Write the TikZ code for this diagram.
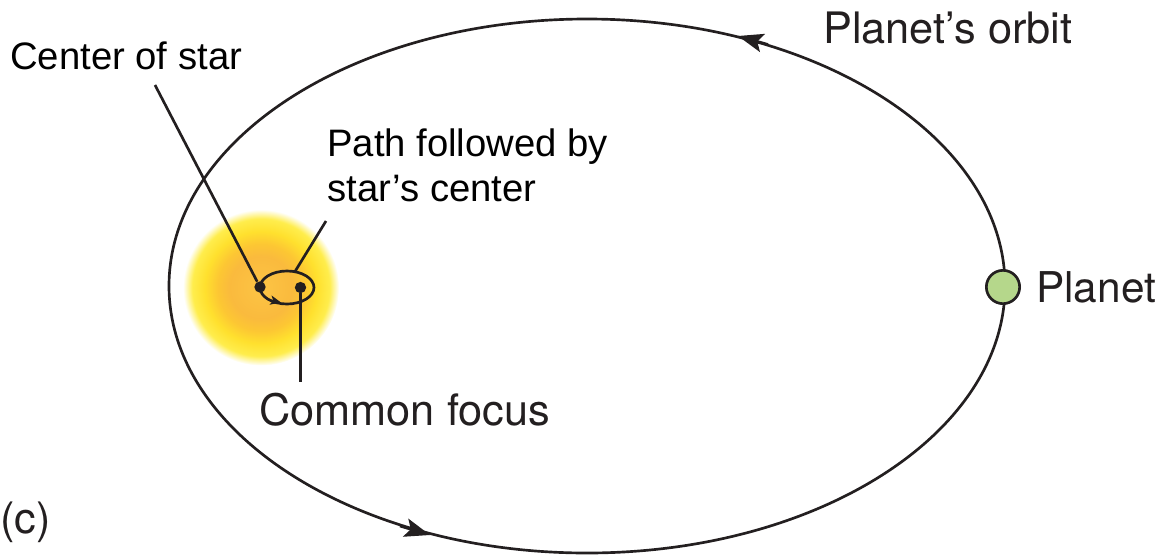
\documentclass[tikz,border=0pt]{standalone}
\usepackage{fontspec}
\setmainfont{Liberation Sans}
\newfontfamily\figfont{TeX Gyre Heros}
\usetikzlibrary{arrows.meta,shapes.geometric}
\definecolor{ink}{HTML}{231F20}
\definecolor{planetgreen}{HTML}{B5D78B}
\definecolor{glowA}{rgb}{0.99,0.77,0.27}
\definecolor{glowB}{rgb}{0.98,0.73,0.24}
\definecolor{glowC}{rgb}{0.99,0.78,0.20}
\definecolor{glowD}{rgb}{1.0,0.88,0.18}
\definecolor{glowE}{rgb}{1.0,0.93,0.30}
% the rim of a shaded circle sits at 25bp of the shading
\pgfdeclareradialshading{starglow}{\pgfpoint{0bp}{0bp}}{%
  color(0bp)=(glowA);
  color(10bp)=(glowB);
  color(14bp)=(glowC);
  color(18bp)=(glowD);
  color(22bp)=(glowE);
  color(25bp)=(white);
  color(50bp)=(white)}
\tikzset{
  x=0.75pt, y=-0.75pt,
  curve/.style={draw=ink, line width=2pt},
  leader/.style={draw=ink, line width=2pt},
  flow/.style={draw=ink, line width=2pt, -{Stealth[length=19pt,width=14pt,inset=4pt]}},
  smallflow/.style={draw=ink, line width=1pt, -{Stealth[length=8pt,width=7pt,inset=2pt]}},
  pointdot/.style={circle, fill=ink, inner sep=0pt, minimum size=8.5pt},
  arial/.style={anchor=base west, inner sep=0pt, text=black, font=\fontsize{28.7pt}{34pt}\selectfont},
  helv/.style={anchor=base west, inner sep=0pt, text=ink, font=\figfont\fontsize{32.5pt}{38pt}\selectfont},
  helvsmall/.style={helv, font=\figfont\fontsize{31.8pt}{38pt}\selectfont},
}
\begin{document}
\begin{tikzpicture}
\useasboundingbox (0,0) rectangle (1159,554);

% star glow
\node[circle, minimum size=117pt, inner sep=0pt, shading=starglow] (star) at (261,287.5) {};

% planet's orbit with its direction marks
\draw[curve] (587,286) ellipse [x radius=418, y radius=267];
\coordinate (topA) at (768,44.5);
\coordinate (topB) at (738,36);
\coordinate (botA) at (400,526);
\coordinate (botB) at (430,535);
\draw[flow] (topA) -- (topB);
\draw[flow] (botA) -- (botB);

% path of the star's center
\node[draw=ink, line width=2pt, ellipse, minimum width=40.5pt, minimum height=24.75pt, inner sep=0pt] (path) at (287,287.5) {};
\coordinate (pathA) at (268,299.5);
\coordinate (pathB) at (281,302.5);
\draw[smallflow] (pathA) -- (pathB);

% marked points
\node[pointdot] (center) at (260,287) {};
\node[pointdot] (focus) at (300.5,287.5) {};

% planet
\node[circle, draw=ink, fill=planetgreen, line width=2pt, minimum size=25pt, inner sep=0pt] (planet) at (1003,287) {};

% labels
\node[helv] (orbitlabel) at (823,43.5) {Planet’s orbit};
\node[helvsmall] (planetlabel) at (1036,302) {Planet};
\node[helv] (focuslabel) at (259,425) {Common focus};
\node[helv] (clabel) at (0,533) {(c)};
\node[arial] (centerlabel) at (10,69) {Center of star};
\node[arial] (pathlabel) at (327,156) {Path followed by};
\node[arial] (pathlabelb) at (327,201) {star’s center};

% leader lines
\coordinate (centerEnd) at (155,85);
\coordinate (pathEnd) at (326,221);
\coordinate (focusEnd) at (300.5,382);
\coordinate (pathTop) at (295,271.5);
\draw[leader] (centerEnd) -- (center);
\draw[leader] (pathEnd) -- (pathTop);
\draw[leader] (focus) -- (focusEnd);
\end{tikzpicture}
\end{document}
